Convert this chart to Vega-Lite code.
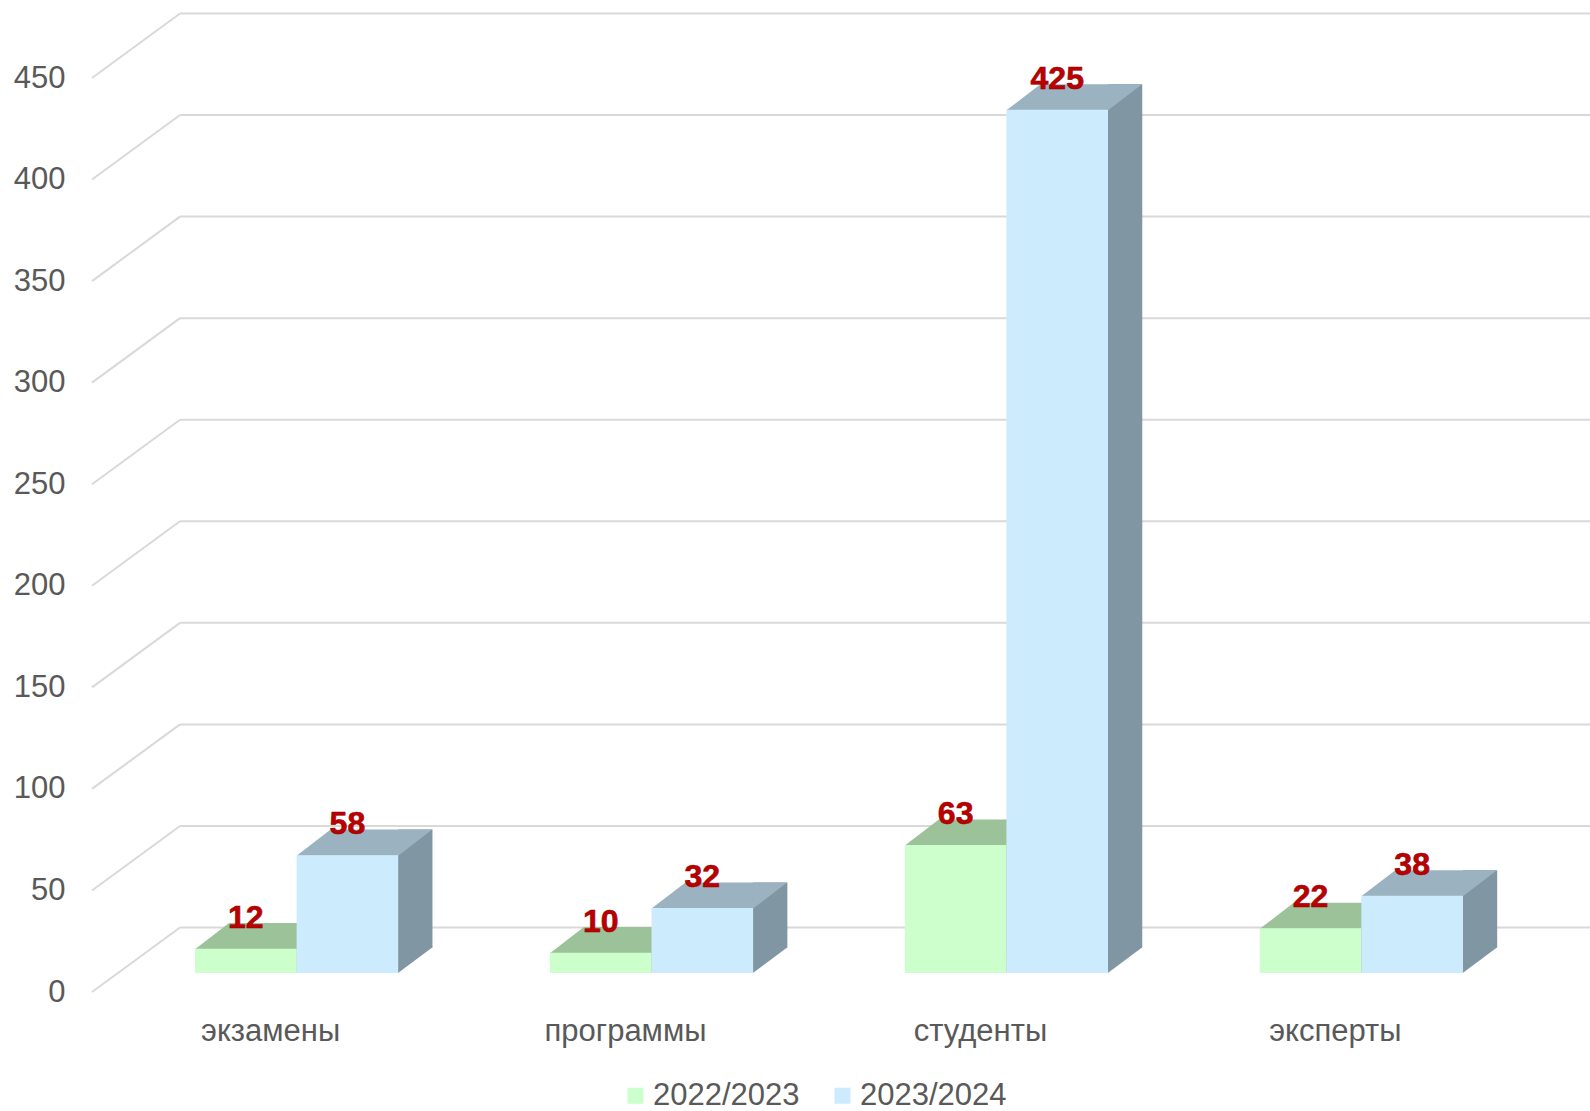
{
  "$schema": "https://vega.github.io/schema/vega-lite/v6.json",
  "width": 1422,
  "height": 914,
  "autosize": {"type": "none"},
  "padding": {"left": 92, "top": 78, "right": 76, "bottom": 119},
  "background": "white",
  "config": {
    "view": {"stroke": null},
    "font": "Liberation Sans",
    "axisY": {"domain": false, "ticks": false, "grid": false, "labelFontSize": 31, "labelColor": "#595959", "labelPadding": 27, "tickCount": 10, "labelFont": "Liberation Sans"},
    "axisX": {"domain": false, "ticks": false, "grid": false, "labelFontSize": 31, "labelColor": "#595959", "labelPadding": 48, "labelBaseline": "alphabetic", "labelAngle": 0, "labelLimit": 400, "labelFont": "Liberation Sans"}
  },
  "datasets": {
    "bars": [
      {"category": "экзамены", "series": "2022/2023", "value": 12},
      {"category": "программы", "series": "2022/2023", "value": 10},
      {"category": "студенты", "series": "2022/2023", "value": 63},
      {"category": "эксперты", "series": "2022/2023", "value": 22},
      {"category": "экзамены", "series": "2023/2024", "value": 58},
      {"category": "программы", "series": "2023/2024", "value": 32},
      {"category": "студенты", "series": "2023/2024", "value": 425},
      {"category": "эксперты", "series": "2023/2024", "value": 38}
    ],
    "levels": [
      {"level": 0}, {"level": 50}, {"level": 100}, {"level": 150}, {"level": 200},
      {"level": 250}, {"level": 300}, {"level": 350}, {"level": 400}, {"level": 450}
    ]
  },
  "layer": [
    {
      "data": {"name": "levels"},
      "mark": {"type": "rule", "color": "#D9D9D9", "strokeWidth": 2, "xOffset": 88, "x2Offset": 88, "yOffset": -64.5},
      "encoding": {
        "x": {"datum": 0, "type": "quantitative", "scale": {"domain": [0, 1]}, "axis": null},
        "x2": {"datum": 1},
        "y": {"field": "level", "type": "quantitative", "title": null, "scale": {"domain": [0, 450], "nice": false}}
      }
    },
    {
      "data": {"name": "levels"},
      "mark": {"type": "rule", "color": "#D9D9D9", "strokeWidth": 2, "x2Offset": 88, "y2Offset": -64.5},
      "encoding": {
        "x": {"datum": 0, "type": "quantitative", "scale": {"domain": [0, 1]}, "axis": null},
        "x2": {"datum": 0},
        "y": {"field": "level", "type": "quantitative", "title": null},
        "y2": {"field": "level"}
      }
    },
    {
      "data": {"name": "bars"},
      "encoding": {
        "x": {"field": "category", "type": "nominal", "sort": null, "title": null, "scale": {"paddingInner": 0.4273, "paddingOuter": 0.217}},
        "xOffset": {"field": "series", "type": "nominal", "sort": null, "scale": {"type": "band", "range": [26, 229.2], "paddingInner": 0, "paddingOuter": 0}},
        "y": {"field": "value", "type": "quantitative", "title": null}
      },
      "layer": [
        {
          "mark": {"type": "bar", "width": 34.5, "yOffset": -44.6, "y2Offset": -44.6},
          "encoding": {
            "xOffset": {"field": "series", "type": "nominal", "sort": null, "scale": {"type": "band", "range": [93.8, 297], "paddingInner": 0, "paddingOuter": 0}},
            "color": {"condition": {"test": "datum.series === '2022/2023'", "value": "#86A886"}, "value": "#8196A3"}
          }
        },
        {
          "mark": {"type": "point", "filled": true, "opacity": 1, "strokeWidth": 0, "size": 40000, "shape": "M0.506,-0.27 L0.506,0 L0.848,-0.256 L0.848,-0.27 Z", "yOffset": -19},
          "encoding": {
            "y": {"datum": 0, "type": "quantitative"},
            "color": {"condition": {"test": "datum.series === '2022/2023'", "value": "#86A886"}, "value": "#8196A3"}
          }
        },
        {
          "mark": {"type": "point", "filled": true, "opacity": 1, "strokeWidth": 0, "size": 40000, "shape": "M-0.508,0.005 L0.508,0.005 L0.848,-0.256 L-0.168,-0.256 Z", "yOffset": -19},
          "encoding": {
            "color": {"condition": {"test": "datum.series === '2022/2023'", "value": "#9CC29A"}, "value": "#9BB2C1"}
          }
        },
        {
          "mark": {"type": "bar", "yOffset": -19, "y2Offset": -19},
          "encoding": {
            "color": {
              "field": "series", "type": "nominal",
              "scale": {"domain": ["2022/2023", "2023/2024"], "range": ["#CCFFCC", "#CCEBFD"]},
              "legend": {"title": null, "orient": "none", "legendX": 528, "legendY": 1002, "direction": "horizontal", "columns": 2, "symbolType": "square", "symbolSize": 256, "symbolStrokeWidth": 0, "symbolOpacity": 1, "labelFontSize": 31, "labelColor": "#595959", "labelFont": "Liberation Sans", "labelOffset": 2, "columnPadding": 27}
            }
          }
        },
        {
          "mark": {"type": "text", "yOffset": -50, "fontSize": 32, "fontWeight": "bold", "font": "Liberation Sans", "fill": "#BC0000", "stroke": "#900000", "strokeWidth": 0.6, "align": "center", "baseline": "middle"},
          "encoding": {
            "text": {"field": "value", "type": "quantitative"}
          }
        }
      ],
      "resolve": {"scale": {"xOffset": "independent"}}
    }
  ],
  "resolve": {"scale": {"x": "independent"}}
}
